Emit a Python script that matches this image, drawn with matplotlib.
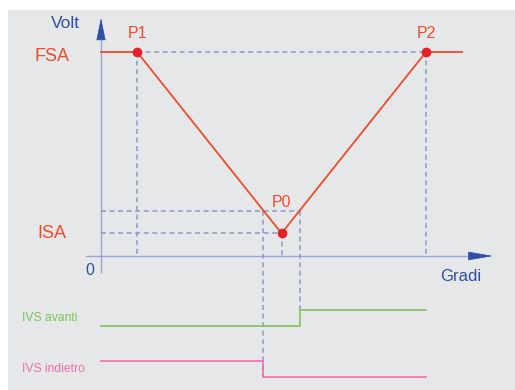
import numpy as np
import matplotlib
matplotlib.use('Agg')
import matplotlib.pyplot as plt
from matplotlib.patches import Rectangle

plt.rcParams['font.family'] = ['Liberation Sans', 'DejaVu Sans']

# caratteristica del sensore (gradi, volt)
punti_nome = ['P1', 'P0', 'P2']
punti_gradi = [10, 50, 90]
punti_volt = [4.5, 0.5, 4.5]
curva_gradi = [0, 10, 50, 90, 100]
curva_volt = [4.5, 4.5, 0.5, 4.5, 4.5]
FSA = 4.5
ISA = 0.5
soglia = 1.0
fine_segnali = 90

# soglia incrociata sui due rami
x_dn = np.interp(soglia, [punti_volt[1], punti_volt[0]], [punti_gradi[1], punti_gradi[0]])
x_up = np.interp(soglia, [punti_volt[1], punti_volt[2]], [punti_gradi[1], punti_gradi[2]])

# uscite digitali
avanti_x = [0, x_up, fine_segnali]
avanti_liv = [0, 1, 1]
indietro_x = [0, x_dn, fine_segnali]
indietro_liv = [1, 0, 0]

ROSSO = '#ef4b2c'
BLU_ASSE = '#9ea6d6'
BLU_SCURO = '#2d4fa6'
TRATTEGGIO = '#8f97cc'
VERDE = '#7cc65a'
ROSA = '#ee6eab'

fig = plt.figure(figsize=(5.15, 3.9), dpi=100, facecolor='white')
sfondo = fig.add_axes([0, 0, 1, 1], zorder=0)
sfondo.axis('off')
sfondo.add_patch(Rectangle((8 / 515, 0), 1, 380 / 390, transform=sfondo.transAxes,
                           facecolor='#e6e7e8', edgecolor='none', clip_on=False))

ax = fig.add_axes([0, 0, 1, 1], zorder=1)
ax.set_facecolor('none')
ax.set_xlim(-27.97, 114.65)
ax.set_ylim(-2.956, 5.647)
ax.axis('off')

# assi
ax.plot([-4.2, 104], [0, 0], color=BLU_ASSE, lw=1.0, zorder=1)
ax.plot([0, 0], [-0.35, 4.9], color=BLU_ASSE, lw=1.0, zorder=1)
ax.annotate('', xy=(108.5, 0), xytext=(102.2, 0),
            arrowprops=dict(arrowstyle='-|>,head_length=1.6,head_width=0.28', mutation_scale=10,
                            color=BLU_SCURO, lw=0.5, shrinkA=0, shrinkB=0))
ax.annotate('', xy=(0, 5.25), xytext=(0, 4.8),
            arrowprops=dict(arrowstyle='-|>,head_length=1.45,head_width=0.3', mutation_scale=10,
                            color=BLU_SCURO, lw=0.5, shrinkA=0, shrinkB=0))

# tratteggi di riferimento
tr = dict(color=TRATTEGGIO, lw=1.1, ls=(0, (3.2, 2.4)), zorder=2)
ax.plot([punti_gradi[0], punti_gradi[2]], [FSA, FSA], **tr)
ax.plot([0, x_up], [soglia, soglia], **tr)
ax.plot([0, punti_gradi[1]], [ISA, ISA], **tr)
for g, v in zip(punti_gradi, punti_volt):
    ax.plot([g, g], [v, 0], **tr)
ax.plot([x_dn, x_dn], [soglia, -2.67], **tr)
ax.plot([x_up, x_up], [soglia, -1.19], **tr)

# curva
ax.plot(curva_gradi, curva_volt, color=ROSSO, lw=1.3, zorder=3)
ax.plot(punti_gradi, punti_volt, 'o', color='#e5202a', ms=6, zorder=4)
for nome, g, v in zip(punti_nome, punti_gradi, punti_volt):
    dy = 0.4 if v == FSA else 0.69
    ax.text(g, v + dy, nome, color=ROSSO, fontsize=11.5, ha='center', va='center')

# segnali IVS
ax.plot(avanti_x, -1.545 + 0.355 * np.array(avanti_liv), drawstyle='steps-post',
        color=VERDE, lw=1.2, zorder=3)
ax.plot(indietro_x, -2.67 + 0.35 * np.array(indietro_liv), drawstyle='steps-post',
        color=ROSA, lw=1.2, zorder=3)

# testi
ax.text(-5.8, 5.12, 'Volt', color=BLU_SCURO, fontsize=12.5, ha='right', va='center')
ax.text(-13.6, FSA - 0.11, 'FSA', color=ROSSO, fontsize=13, ha='center', va='center')
ax.text(-13.6, ISA, 'ISA', color=ROSSO, fontsize=13, ha='center', va='center')
ax.text(-3.0, -0.31, '0', color=BLU_SCURO, fontsize=11.5, ha='center', va='center')
ax.text(99.7, -0.46, 'Gradi', color=BLU_SCURO, fontsize=12, ha='center', va='center')
ax.text(-21.9, -1.37, 'IVS avanti', color=VERDE, fontsize=8.7, ha='left', va='center')
ax.text(-21.9, -2.49, 'IVS indietro', color=ROSA, fontsize=8.7, ha='left', va='center')

fig.savefig('out.png', dpi=100, facecolor=fig.get_facecolor())
